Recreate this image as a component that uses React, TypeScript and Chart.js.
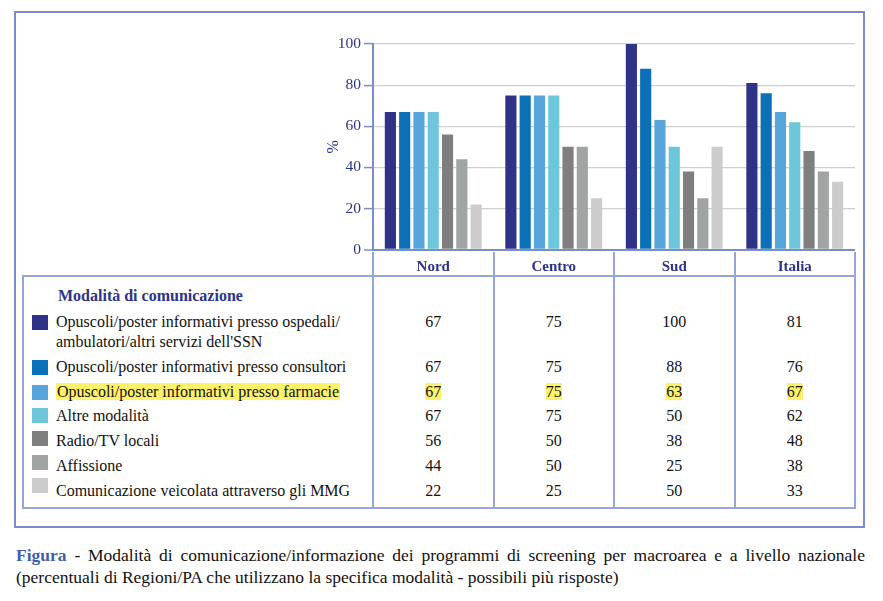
import React, { useEffect, useRef } from 'react';
import { Chart, registerables } from 'chart.js';

Chart.register(...registerables);

// ---------- data ----------
const categories = ['Nord', 'Centro', 'Sud', 'Italia'];

const seriesLabels: string[][] = [
  ['Opuscoli/poster informativi presso ospedali/', "ambulatori/altri servizi dell'SSN"],
  ['Opuscoli/poster informativi presso consultori'],
  ['Opuscoli/poster informativi presso farmacie'],
  ['Altre modalità'],
  ['Radio/TV locali'],
  ['Affissione'],
  ['Comunicazione veicolata attraverso gli MMG'],
];

const opuscoliOspedali = [67, 75, 100, 81];
const opuscoliConsultori = [67, 75, 88, 76];
const opuscoliFarmacie = [67, 75, 63, 67];
const altreModalita = [67, 75, 50, 62];
const radioTvLocali = [56, 50, 38, 48];
const affissione = [44, 50, 25, 38];
const comunicazioneMmg = [22, 25, 50, 33];

const seriesValues = [
  opuscoliOspedali,
  opuscoliConsultori,
  opuscoliFarmacie,
  altreModalita,
  radioTvLocali,
  affissione,
  comunicazioneMmg,
];

const seriesColors = ['#2e3388', '#0b70b7', '#56a6dc', '#6ec6da', '#7f7f7f', '#a0a4a3', '#cccccc'];
const highlightedSeries = 2;

const yTicks = [0, 20, 40, 60, 80, 100];
const yAxisTitle = '%';
const tableTitle = 'Modalità di comunicazione';
const captionLead = 'Figura';
const captionLine1 = ' - Modalità di comunicazione/informazione dei programmi di screening per macroarea e a livello nazionale';
const captionLine2 = '(percentuali di Regioni/PA che utilizzano la specifica modalità - possibili più risposte)';

// ---------- styles / layout ----------
const FONT = "'Liberation Serif', Tinos, 'DejaVu Serif', serif";
const DARK_BLUE = '#2e3388';
const AXIS_BLUE = '#7b8cc8';
const TABLE_LINE = '#97a6d9';
const YELLOW = '#fff26b';

const CANVAS_LEFT = 300;
const CANVAS_TOP = 30;
const CANVAS_W = 556;
const CANVAS_H = 232;
const PLOT_LEFT = 373;
const PLOT_RIGHT = 855;
const COL_W = (PLOT_RIGHT - PLOT_LEFT) / categories.length;

export default function App() {
  const canvasRef = useRef<HTMLCanvasElement | null>(null);

  useEffect(() => {
    if (!canvasRef.current) return;
    const chart = new Chart(canvasRef.current, {
      type: 'bar',
      data: {
        labels: categories,
        datasets: seriesValues.map((vals, i) => ({
          label: seriesLabels[i].join(''),
          data: vals,
          backgroundColor: seriesColors[i],
          borderWidth: 0,
          categoryPercentage: 0.83,
          barPercentage: 0.78,
        })),
      },
      options: {
        animation: false,
        responsive: false,
        maintainAspectRatio: false,
        layout: { padding: { top: 14, bottom: 10, left: 0, right: CANVAS_LEFT + CANVAS_W - PLOT_RIGHT } },
        plugins: {
          legend: { display: false },
          tooltip: { enabled: false },
          title: { display: false },
        },
        scales: {
          x: { display: false },
          y: {
            min: 0,
            max: 100,
            afterFit: (s: any) => {
              s.width = PLOT_LEFT - CANVAS_LEFT;
            },
            afterBuildTicks: (s: any) => {
              s.ticks = yTicks.map((v) => ({ value: v }));
            },
            ticks: {
              padding: 3,
              color: DARK_BLUE,
              font: { family: FONT, size: 15.5 },
            },
            grid: {
              color: (ctx: any) => (ctx.tick && ctx.tick.value === 0 ? AXIS_BLUE : '#cfcfcf'),
              lineWidth: (ctx: any) => (ctx.tick && ctx.tick.value === 0 ? 2 : 1.2),
              tickLength: 9,
              tickColor: AXIS_BLUE,
              tickWidth: 1.5,
            },
            border: { display: true, color: AXIS_BLUE, width: 2 },
            title: {
              display: true,
              text: yAxisTitle,
              color: DARK_BLUE,
              font: { family: FONT, size: 16 },
              padding: { top: 24, bottom: 0 },
            },
          },
        },
      },
    });
    return () => chart.destroy();
  }, []);

  // row geometry of the legend table
  const rowCenters: number[] = [];
  let c = 322;
  seriesLabels.forEach((lines) => {
    rowCenters.push(c);
    c += 24.75 + (lines.length - 1) * 20;
  });

  const abs = (s: React.CSSProperties): React.CSSProperties => ({ position: 'absolute', ...s });

  const lines: React.ReactNode[] = [];
  lines.push(<div key="h1" style={abs({ left: 22, top: 274.5, width: PLOT_RIGHT - 22 + 1, height: 2, background: TABLE_LINE })} />);
  lines.push(<div key="h2" style={abs({ left: 22, top: 507, width: PLOT_RIGHT - 22 + 1, height: 2, background: TABLE_LINE })} />);
  lines.push(<div key="v0" style={abs({ left: 22, top: 274.5, width: 2, height: 234.5, background: TABLE_LINE })} />);
  for (let i = 0; i <= categories.length; i++) {
    const x = PLOT_LEFT + COL_W * i;
    lines.push(
      <div key={'vc' + i} style={abs({ left: x - 1, top: 252, width: 2, height: 257, background: TABLE_LINE })} />
    );
  }

  return (
    <div
      style={abs({
        left: 0,
        top: 0,
        width: 883,
        height: 601,
        background: '#ffffff',
        fontFamily: FONT,
        overflow: 'hidden',
      })}
    >
      <div
        style={abs({
          left: 14,
          top: 11,
          width: 851,
          height: 517,
          border: `2px solid ${AXIS_BLUE}`,
          boxSizing: 'border-box',
        })}
      />

      {lines}

      <canvas
        ref={canvasRef}
        width={CANVAS_W}
        height={CANVAS_H}
        style={abs({ left: CANVAS_LEFT, top: CANVAS_TOP, width: CANVAS_W, height: CANVAS_H })}
      />

      {categories.map((cat, i) => (
        <div
          key={cat}
          style={abs({
            left: PLOT_LEFT + COL_W * i,
            top: 256,
            width: COL_W,
            height: 20,
            lineHeight: '20px',
            textAlign: 'center',
            fontWeight: 'bold',
            fontSize: 15,
            color: DARK_BLUE,
          })}
        >
          {cat}
        </div>
      ))}

      <div
        style={abs({
          left: 58,
          top: 286,
          height: 20,
          lineHeight: '20px',
          fontWeight: 'bold',
          fontSize: 16,
          color: DARK_BLUE,
          whiteSpace: 'nowrap',
        })}
      >
        {tableTitle}
      </div>

      {seriesLabels.map((labelLines, i) => {
        const cy = rowCenters[i];
        const hl = i === highlightedSeries;
        return (
          <React.Fragment key={'row' + i}>
            <div
              style={abs({
                left: 32,
                top: cy - 7 - Math.max(0, i - 2) * 1.3,
                width: 16,
                height: 15,
                background: seriesColors[i],
              })}
            />
            <div
              style={abs({
                left: 56,
                top: cy - 10,
                fontSize: 16,
                lineHeight: '20px',
                color: '#111111',
                whiteSpace: 'nowrap',
              })}
            >
              {labelLines.map((ln, j) => (
                <div key={j}>
                  <span style={{ background: hl ? YELLOW : 'transparent', padding: hl ? '0 1px' : 0 }}>{ln}</span>
                </div>
              ))}
            </div>
            {seriesValues[i].map((v, k) => (
              <div
                key={'val' + i + '-' + k}
                style={abs({
                  left: PLOT_LEFT + COL_W * k,
                  top: cy - 10,
                  width: COL_W,
                  textAlign: 'center',
                  fontSize: 16,
                  lineHeight: '20px',
                  color: '#111111',
                })}
              >
                <span style={{ background: hl ? YELLOW : 'transparent' }}>{v}</span>
              </div>
            ))}
          </React.Fragment>
        );
      })}

      <div
        style={abs({
          left: 16,
          top: 544,
          width: 849,
          fontSize: 17.5,
          lineHeight: '22px',
          color: '#111111',
          textAlign: 'justify',
          textAlignLast: 'justify',
          whiteSpace: 'nowrap',
        } as React.CSSProperties)}
      >
        <span style={{ color: '#3f5fae', fontWeight: 'bold' }}>{captionLead}</span>
        {captionLine1}
      </div>
      <div
        style={abs({
          left: 16,
          top: 566,
          fontSize: 17.5,
          lineHeight: '22px',
          color: '#111111',
          whiteSpace: 'nowrap',
        })}
      >
        {captionLine2}
      </div>
    </div>
  );
}
